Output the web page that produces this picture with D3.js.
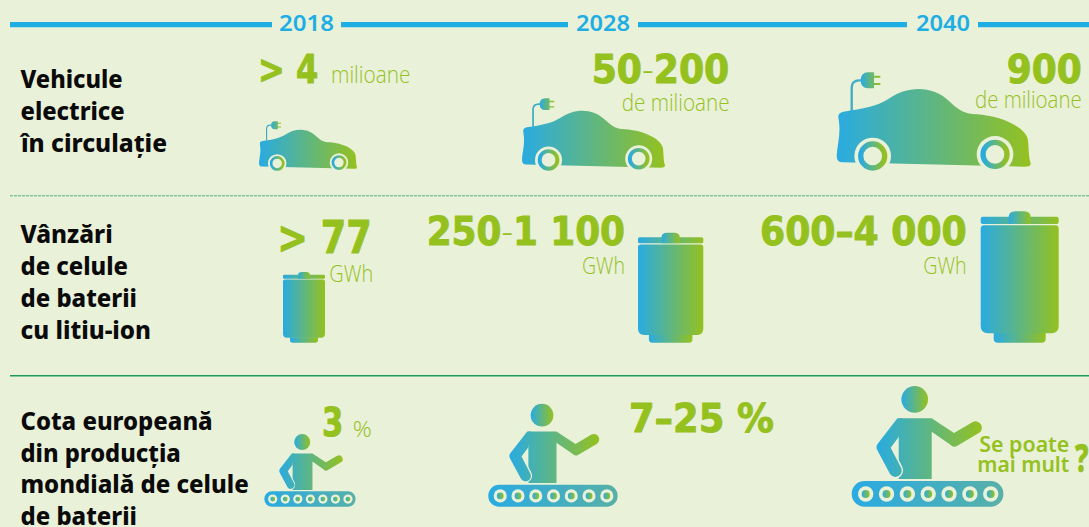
<!DOCTYPE html>
<html><head><meta charset="utf-8">
<script src="https://cdn.jsdelivr.net/npm/d3@7/dist/d3.min.js"></script>
<style>html,body{margin:0;padding:0;background:#eaf1d9;overflow:hidden}svg{display:block}</style>
</head><body><div id="c"></div>
<script>
// ---------- data ----------
const years = ["2018", "2028", "2040"];
const vehicleTitle = ["Vehicule", "electrice", "în circulație"];
const batteryTitle = ["Vânzări", "de celule", "de baterii", "cu litiu-ion"];
const shareTitle = ["Cota europeană", "din producția", "mondială de celule", "de baterii"];
const vehicleValues = ["> 4", "50-200", "900"];
const vehicleUnits = ["milioane", "de milioane", "de milioane"];
const batteryValues = ["> 77", "250-1 100", "600–4 000"];
const batteryUnits = ["GWh", "GWh", "GWh"];
const shareValues = ["3", "7–25 %", "?"];
const shareUnits = ["%", "", ""];
const shareNote = ["Se poate", "mai mult"];

// ---------- layout ----------
const W = 1089, H = 527;
const BG = "#eaf1d9", BLUE = "#1eaee4", GREEN = "#95c11f", C1 = "#29abe2", C2 = "#95c11f";
const BOLD = "'DejaVu Sans'", LIGHT = "'Open Sans'", TITLE = "'Noto Sans'";
const svg = d3.select("#c").append("svg").attr("width", W).attr("height", H);
svg.append("rect").attr("width", W).attr("height", H).attr("fill", BG);
const defs = svg.append("defs");
function grad(id, a, b, user) {
  const g = defs.append("linearGradient").attr("id", id);
  if (user) g.attr("gradientUnits", "userSpaceOnUse").attr("x1", user[0]).attr("x2", user[1]).attr("y1", 0).attr("y2", 0);
  g.append("stop").attr("offset", 0).attr("stop-color", a);
  g.append("stop").attr("offset", 1).attr("stop-color", b);
}
grad("g", C1, C2);
grad("gp", C1, C2, [110, 425]);
grad("gc", C1, "#58b0a8");

// header rule
const ruleSegs = [[10, 272], [341, 568], [638, 907], [978, 1089]];
svg.selectAll("line.r").data(ruleSegs).join("line").attr("class", "r")
  .attr("x1", d => d[0]).attr("x2", d => d[1]).attr("y1", 24.6).attr("y2", 24.6)
  .attr("stroke", BLUE).attr("stroke-width", 5.2);
svg.append("line").attr("x1", 10).attr("x2", W).attr("y1", 195.8).attr("y2", 195.8)
  .attr("stroke", "#4fb07c").attr("stroke-width", 1).attr("stroke-dasharray", "3 1");
svg.append("line").attr("x1", 10).attr("x2", W).attr("y1", 375.8).attr("y2", 375.8)
  .attr("stroke", "#1d9c58").attr("stroke-width", 1.5);

function txt(s, x0, x1, y, size, o = {}) {
  const t = svg.append("text").attr("x", x0).attr("y", y).attr("font-size", size)
    .attr("font-family", o.font || BOLD).attr("font-weight", o.weight || 700)
    .attr("fill", o.fill || GREEN).attr("xml:space", "preserve").style("white-space", "pre");
  if (o.stroke) t.attr("stroke", o.fill || GREEN).attr("stroke-width", o.stroke).attr("stroke-linejoin", "round");
  if (s.includes("-") && o.thinHyphen) {
    s.split(/(-)/).forEach(p => {
      const sp = t.append("tspan").text(p);
      if (p === "-") sp.attr("font-weight", 300).attr("font-family", LIGHT).attr("stroke", "none");
    });
  } else t.text(s);
  t.attr("textLength", x1 - x0).attr("lengthAdjust", "spacingAndGlyphs");
  return t;
}

// years
const yearX = [[279, 334], [576, 630], [916, 970]];
years.forEach((y, i) => txt(y, yearX[i][0], yearX[i][1], 30.8, 22, {font: TITLE, weight: 600, fill: BLUE}));

// row titles
const T = {font: TITLE, weight: 800, fill: "#0a0a0a"};
const titles = [
  [vehicleTitle, [87.7, 119.5, 151.7], [[20.5, 122.7], [20.5, 124.7], [21, 167]]],
  [batteryTitle, [242.7, 275, 307, 338.5], [[20.5, 112.7], [20.5, 128], [20.5, 137], [20.5, 151]]],
  [shareTitle, [430, 461.7, 493.3, 525], [[20.5, 212.7], [20.5, 180.7], [20.5, 248.7], [20.5, 137]]],
];
titles.forEach(([lines, ys, xs]) => lines.forEach((l, i) => txt(l, xs[i][0], xs[i][1], ys[i], 24, T)));

// value labels
const BIG = 39, U = {font: LIGHT, weight: 300}, V = {thinHyphen: true, stroke: 1};
const vX = [[258, 318.3, 82.7], [591.7, 729.3, 83], [1006.7, 1081.7, 82.7]];
vehicleValues.forEach((v, i) => txt(v, vX[i][0], vX[i][1], vX[i][2], BIG, V));
const vuX = [[331, 410.5, 82.7], [621.7, 729.5, 111], [975, 1081.7, 107.7]];
vehicleUnits.forEach((v, i) => txt(v, vuX[i][0], vuX[i][1], vuX[i][2], 24, U));
const bX = [[277.3, 371.7, 253, 44], [426.7, 625, 245, BIG], [760, 966.7, 245, BIG]];
batteryValues.forEach((v, i) => txt(v, bX[i][0], bX[i][1], bX[i][2], bX[i][3], V));
const buX = [[329.3, 373.3, 281.7], [582, 625, 274], [923.3, 966.7, 274]];
batteryUnits.forEach((v, i) => txt(v, buX[i][0], buX[i][1], buX[i][2], 23, U));
const sX = [[322, 343.3, 436], [629, 774, 431.7]];
txt(shareValues[0], sX[0][0], sX[0][1], sX[0][2], BIG, V);
txt(shareValues[1], sX[1][0], sX[1][1], sX[1][2], BIG, V);
txt(shareValues[2], 1075, 1088.5, 472.3, 39, {font: TITLE, weight: 800, stroke: 0.6});
txt(shareUnits[0], 352.7, 371.7, 436.7, 22, U);
txt(shareNote[0], 979.3, 1069.3, 452.3, 22, {font: TITLE, weight: 600});
txt(shareNote[1], 977.3, 1069.3, 472.3, 22, {font: TITLE, weight: 600});

// ---------- icons ----------
const carW = d3.scaleOrdinal(years, [98, 143, 194]);
const carX = d3.scaleOrdinal(years, [259, 522, 836.7]);
const batW = d3.scaleOrdinal(years, [42, 65.3, 78]);
const batX = d3.scaleOrdinal(years, [283, 638, 980.7]);
const perW = d3.scaleOrdinal(years, [91.3, 129.3, 151.7]);
const perX = d3.scaleOrdinal(years, [264.3, 488.3, 851.7]);

function car(y) {
  const s = carW(y) / 582;
  const g = svg.append("g").attr("transform", `translate(${carX(y) - 110 * s},${171 - 512 * s}) scale(${s})`);
  g.append("path").attr("fill", "none").attr("stroke", "#3fadc6").attr("stroke-width", 7)
    .attr("d", "M155,332 L155,262 Q155,240 178,240 L195,240");
  g.append("path").attr("fill", "url(#g)")
    .attr("d", "M182,240 Q182,217 204,216 L222,216 L222,226 L241,226 L241,232 L222,232 L222,248 L241,248 L241,254 L222,254 L222,264 L204,264 Q182,263 182,240 Z");
  g.append("path").attr("fill", "url(#g)")
    .attr("d", "M128,486 Q110,486 110,466 C112,430 124,400 115,352 Q113,337 130,334 C190,325 230,318 265,296 C320,258 395,252 450,305 C480,333 495,340 530,342 C595,346 670,375 683,415 C687,440 685,470 692,488 Q693,499 675,499 Z");
  [[218, 467], [585, 462]].forEach(([cx, cy]) => {
    g.append("circle").attr("cx", cx).attr("cy", cy).attr("r", 55).attr("fill", BG);
    g.append("circle").attr("cx", cx).attr("cy", cy).attr("r", 36).attr("fill", BG).attr("stroke", "url(#g)").attr("stroke-width", 16);
  });
}
function battery(y) {
  const s = batW(y) / 234;
  const g = svg.append("g").attr("transform", `translate(${batX(y) - 722 * s},${342.7 - 460 * s}) scale(${s})`);
  g.append("path").attr("fill", "url(#g)").attr("d", "M761,430 L917,430 L917,448 Q917,460 905,460 L773,460 Q761,460 761,448 Z");
  g.append("path").attr("fill", "url(#g)").attr("d", "M732,108 L946,108 Q956,108 956,118 L956,410 Q956,432 934,432 L744,432 Q722,432 722,410 L722,118 Q722,108 732,108 Z");
  g.append("rect").attr("x", 722).attr("y", 82).attr("width", 234).attr("height", 22).attr("rx", 6).attr("fill", "url(#g)");
  g.append("path").attr("fill", "url(#g)").attr("d", "M806,104 L806,84 Q806,66 826,66 L852,66 Q872,66 872,84 L872,104 Z");
}
function person(y) {
  const s = perW(y) / 455;
  const g = svg.append("g").attr("transform", `translate(${perX(y) - 35 * s},${506.7 - 395 * s}) scale(${s})`);
  g.append("circle").attr("cx", 224).attr("cy", 73).attr("r", 40).attr("fill", "url(#g)");
  g.append("path").attr("fill", "url(#gp)")
    .attr("d", "M172,130 L275,130 L342,174 L398,141 A19,19 0 0 1 415,175 L352,212 A16,16 0 0 1 331,209 L275,170 L275,312 L176,312 L176,130 Z");
  g.append("line").attr("x1", 128).attr("y1", 215).attr("x2", 164).attr("y2", 286)
    .attr("stroke", BG).attr("stroke-width", 50).attr("stroke-linecap", "round");
  g.append("path").attr("fill", "url(#gp)")
    .attr("d", "M172,130 L185,130 L176,186 L152,218 L182,276 A18,18 0 0 1 150,297 L112,226 Q106,215 113,206 Z");
  g.append("rect").attr("x", 35).attr("y", 318).attr("width", 455).attr("height", 77).attr("rx", 38).attr("fill", "url(#gc)");
  d3.range(7).forEach(i => {
    const x = d3.scaleLinear([0, 6], [77, 452])(i);
    g.append("circle").attr("cx", x).attr("cy", 357).attr("r", 23).attr("fill", BG);
    g.append("circle").attr("cx", x).attr("cy", 357).attr("r", 12).attr("fill", "url(#g)");
  });
}
years.forEach(y => { car(y); battery(y); person(y); });
</script></body></html>
